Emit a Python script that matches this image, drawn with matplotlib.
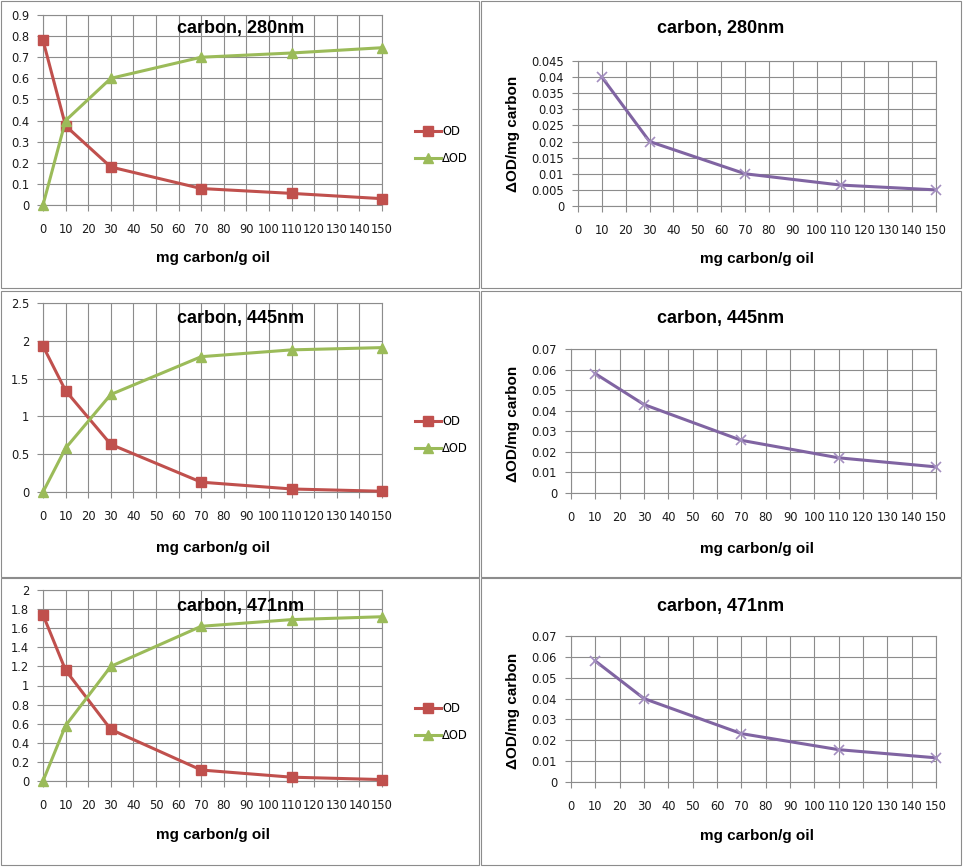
import numpy as np
import matplotlib
matplotlib.use("Agg")
import matplotlib.pyplot as plt
from matplotlib.patches import Rectangle

plt.rcParams['font.family'] = ['Liberation Sans', 'DejaVu Sans']

W, H = 963, 867

# data
x_od = [0, 10, 30, 70, 110, 150]
x_ratio = [10, 30, 70, 110, 150]

titles = ["carbon, 280nm", "carbon, 445nm", "carbon, 471nm"]

od_280 = [0.78, 0.375, 0.18, 0.078, 0.055, 0.03]
dod_280 = [0.0, 0.40, 0.60, 0.70, 0.72, 0.745]
ratio_280 = [0.040, 0.020, 0.010, 0.0065, 0.005]

od_445 = [1.93, 1.34, 0.63, 0.13, 0.04, 0.01]
dod_445 = [0.0, 0.58, 1.29, 1.79, 1.88, 1.91]
ratio_445 = [0.058, 0.043, 0.0256, 0.0171, 0.0127]

od_471 = [1.74, 1.16, 0.54, 0.115, 0.04, 0.015]
dod_471 = [0.0, 0.58, 1.20, 1.62, 1.69, 1.72]
ratio_471 = [0.058, 0.040, 0.0232, 0.0155, 0.0116]

od_ticks = [np.round(np.arange(0, 0.91, 0.1), 1),
            [0, 0.5, 1, 1.5, 2, 2.5],
            np.round(np.arange(0, 2.01, 0.2), 1)]
od_ticklabels = [["0", "0.1", "0.2", "0.3", "0.4", "0.5", "0.6", "0.7", "0.8", "0.9"],
                 ["0", "0.5", "1", "1.5", "2", "2.5"],
                 ["0", "0.2", "0.4", "0.6", "0.8", "1", "1.2", "1.4", "1.6", "1.8", "2"]]
ratio_ticks = [np.round(np.arange(0, 0.0451, 0.005), 3),
               np.round(np.arange(0, 0.071, 0.01), 2),
               np.round(np.arange(0, 0.071, 0.01), 2)]
ratio_ticklabels = [["0", "0.005", "0.01", "0.015", "0.02", "0.025", "0.03", "0.035", "0.04", "0.045"],
                    ["0", "0.01", "0.02", "0.03", "0.04", "0.05", "0.06", "0.07"],
                    ["0", "0.01", "0.02", "0.03", "0.04", "0.05", "0.06", "0.07"]]
x_ticks = list(range(0, 151, 10))

ods = [od_280, od_445, od_471]
dods = [dod_280, dod_445, dod_471]
ratios = [ratio_280, ratio_445, ratio_471]

RED = "#C0504D"
GREEN = "#9BBB59"
PURPLE = "#8064A2"
GRID = "#8C8C8C"
TICKFONT = "DejaVu Sans"

fig = plt.figure(figsize=(W / 100, H / 100), dpi=100)


def px_axes(x0, y0, x1, y1):
    return fig.add_axes([x0 / W, 1 - y1 / H, (x1 - x0) / W, (y1 - y0) / H])


def style(ax, yticks, ylabels):
    ax.set_xlim(0, 150)
    ax.set_xticks(x_ticks)
    ax.set_xticklabels([str(t) for t in x_ticks], family=TICKFONT)
    ax.set_yticks(yticks)
    ax.set_yticklabels(ylabels, family=TICKFONT)
    ax.set_ylim(yticks[0], yticks[-1])
    ax.grid(True, color=GRID, linewidth=0.8)
    ax.set_axisbelow(True)
    for s in ax.spines.values():
        s.set_color(GRID)
        s.set_linewidth(0.8)
    ax.tick_params(direction="out", length=4, width=0.8, color=GRID,
                   labelsize=8.3, labelcolor="#1a1a1a", pad=6)
    ax.tick_params(axis="x", pad=9)


# panel layout in pixels: (top, y_top_tick, y_zero)
rows_left = [(0, 15, 205), (290, 303, 492), (577, 590, 781)]
rows_right = [(0, 61, 206), (290, 349, 493), (577, 636, 782)]
panel_bottom = [288, 577, 865]

for i in range(3):
    top = rows_left[i][0]
    # panel frames
    fig.add_artist(Rectangle((1 / W, 1 - panel_bottom[i] / H), 478 / W,
                             (panel_bottom[i] - top - 1) / H, transform=fig.transFigure,
                             fill=False, edgecolor="#8C8C8C", linewidth=0.8))
    fig.add_artist(Rectangle((481 / W, 1 - panel_bottom[i] / H), 480 / W,
                             (panel_bottom[i] - top - 1) / H, transform=fig.transFigure,
                             fill=False, edgecolor="#8C8C8C", linewidth=0.8))

    # left: OD and delta OD
    _, yt, y0 = rows_left[i]
    ax = px_axes(43, yt, 382, y0)
    style(ax, od_ticks[i], od_ticklabels[i])
    ax.plot(x_od, ods[i], color=RED, linewidth=2.2, marker="s", markersize=7.5,
            label="OD", clip_on=False, zorder=3)
    ax.plot(x_od, dods[i], color=GREEN, linewidth=2.2, marker="^", markersize=7.5,
            label="ΔOD", clip_on=False, zorder=3)
    ax.legend(loc="center left", bbox_to_anchor=(405 / W, 1 - (top + 145) / H),
              bbox_transform=fig.transFigure, frameon=False,
              prop={"family": TICKFONT, "size": 8.3},
              handlelength=2.2, handletextpad=0.1, labelspacing=1.15, markerscale=0.9)
    fig.text(241 / W, 1 - (top + 29) / H, titles[i], ha="center", va="center",
             fontsize=13, fontweight="bold")
    fig.text(213 / W, 1 - (top + 258) / H, "mg carbon/g oil", ha="center", va="center",
             fontsize=11, fontweight="bold")

    # right: delta OD per mg carbon
    _, yt, y0 = rows_right[i]
    x_left = 578 if i == 0 else 571
    ax2 = px_axes(x_left, yt, 936, y0)
    style(ax2, ratio_ticks[i], ratio_ticklabels[i])
    ax2.plot(x_ratio, ratios[i], color=PURPLE, linewidth=2.2, marker="x",
             markersize=7, markeredgecolor="#A48FC0", markeredgewidth=1.2,
             clip_on=False, zorder=3)
    fig.text(721 / W, 1 - (top + 29) / H, titles[i], ha="center", va="center",
             fontsize=13, fontweight="bold")
    fig.text(757 / W, 1 - (top + 259) / H, "mg carbon/g oil", ha="center", va="center",
             fontsize=11, fontweight="bold")
    fig.text(513 / W, 1 - (top + 134) / H, "ΔOD/mg carbon", ha="center", va="center",
             rotation=90, fontsize=11, fontweight="bold")

fig.savefig("out.png", dpi=100)
